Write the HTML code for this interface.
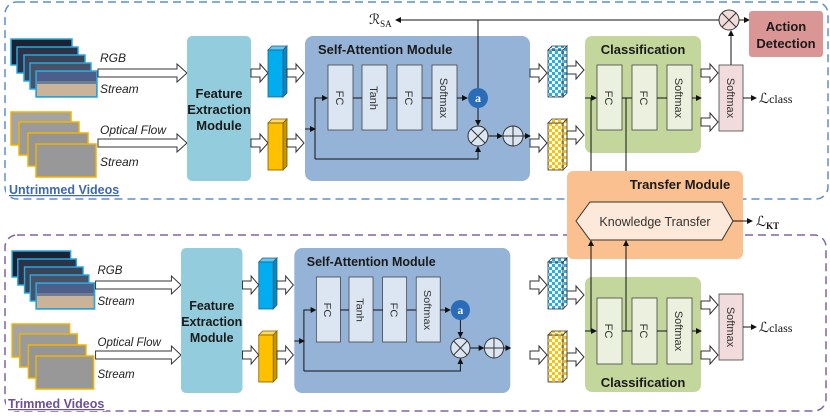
<!DOCTYPE html>
<html><head><meta charset="utf-8"><style>
html,body{margin:0;padding:0;background:#fff}
svg{display:block}
text{font-family:"Liberation Sans",sans-serif}
.b{font-weight:bold;font-size:13px;fill:#1a1a1a}
.i{font-style:italic;font-size:12px;fill:#222}
.r{font-size:11px;fill:#333}
.s{font-family:"Liberation Serif",serif;font-size:14px;fill:#111}
</style></head><body>
<svg width="830" height="419" viewBox="0 0 830 419" xmlns="http://www.w3.org/2000/svg">
<defs>
<pattern id="chb" width="6" height="6" patternUnits="userSpaceOnUse"><rect width="6" height="6" fill="#fff"/><rect width="3" height="3" fill="#1fb0f0"/><rect x="3" y="3" width="3" height="3" fill="#1fb0f0"/></pattern>
<pattern id="chy" width="6" height="6" patternUnits="userSpaceOnUse"><rect width="6" height="6" fill="#fff"/><rect width="3" height="3" fill="#ffc000"/><rect x="3" y="3" width="3" height="3" fill="#ffc000"/></pattern>
<marker id="ah" markerWidth="6" markerHeight="6" refX="5" refY="3" orient="auto" markerUnits="userSpaceOnUse"><path d="M0,0 L6,3 L0,6 Z" fill="#111"/></marker>
<path id="la" d="M0,-4 H79 V-9 L89,0 L79,9 V4 H0 Z" fill="#fff" stroke="#333" stroke-width="1"/>
<path id="sa" d="M0,-4 H9 V-9 L17,0 L9,9 V4 H0 Z" fill="#fff" stroke="#333" stroke-width="1"/>
<g id="cubeB"><path d="M268,50 L272,46 L287,46 L283,50 Z" fill="#5fc8f5" stroke="#245f86" stroke-width=".8"/><path d="M283,50 L287,46 L287,93 L283,97 Z" fill="#0a86c0" stroke="#245f86" stroke-width=".8"/><rect x="268" y="50" width="15" height="47" fill="#00aef0" stroke="#245f86" stroke-width=".8"/></g>
<g id="cubeY"><path d="M268,123 L272,119 L287,119 L283,123 Z" fill="#ffd866" stroke="#7a5d00" stroke-width=".8"/><path d="M283,123 L287,119 L287,166 L283,170 Z" fill="#c99500" stroke="#7a5d00" stroke-width=".8"/><rect x="268" y="123" width="15" height="47" fill="#ffc000" stroke="#7a5d00" stroke-width=".8"/></g>
<g id="left">
 <rect x="11" y="39" width="61" height="26" fill="#1b2233" stroke="#26a8e0" stroke-width="1.5"/>
 <rect x="17" y="47" width="61" height="26" fill="#2a3347" stroke="#26a8e0" stroke-width="1.5"/>
 <rect x="24" y="55" width="61" height="26" fill="#3a4357" stroke="#26a8e0" stroke-width="1.5"/>
 <rect x="30" y="63" width="61" height="26" fill="#4a5268" stroke="#26a8e0" stroke-width="1.5"/>
 <rect x="36" y="71" width="61" height="26" fill="#6f7c95" stroke="#26a8e0" stroke-width="1.5"/>
 <rect x="37" y="72" width="59" height="9" fill="#4b5f8a"/>
 <rect x="37" y="84" width="59" height="12" fill="#c9b49a"/>
 <rect x="11" y="112" width="60" height="33" fill="#a4a4a4" stroke="#f0b400" stroke-width="1.5"/>
 <rect x="19" y="122" width="60" height="33" fill="#9a9a9a" stroke="#f0b400" stroke-width="1.5"/>
 <rect x="28" y="133" width="60" height="33" fill="#959595" stroke="#f0b400" stroke-width="1.5"/>
 <rect x="36" y="144" width="60" height="33" fill="#989898" stroke="#f0b400" stroke-width="1.5"/>
 <text x="100" y="62" class="i">RGB</text>
 <text x="100" y="93" class="i">Stream</text>
 <text x="100" y="134" class="i">Optical Flow</text>
 <text x="100" y="166" class="i">Stream</text>
 <use href="#la" x="98" y="73"/>
 <use href="#la" x="98" y="143"/>
 <rect x="187" y="36" width="64" height="145" rx="5" fill="#93cddd"/>
 <text x="219" y="98" class="b" text-anchor="middle" font-size="13.5">Feature</text>
 <text x="219" y="114" class="b" text-anchor="middle" font-size="13.5">Extraction</text>
 <text x="219" y="130" class="b" text-anchor="middle" font-size="13.5">Module</text>
 <use href="#sa" x="251" y="73"/>
 <use href="#sa" x="251" y="143"/>
 <use href="#cubeB"/><use href="#cubeY"/>
 <use href="#sa" x="287" y="73"/>
 <use href="#sa" x="287" y="143"/>
 <rect x="305" y="36" width="225" height="145" rx="8" fill="#95b3d7"/>
 <text x="318" y="54" class="b">Self-Attention Module</text>
 <g fill="#dce6f2" stroke="#444" stroke-width=".8">
  <rect x="328" y="65" width="25" height="65"/><rect x="362" y="65" width="25" height="65"/>
  <rect x="397" y="65" width="25" height="65"/><rect x="432" y="65" width="25" height="65"/>
 </g>
 <g class="r" text-anchor="middle">
  <text transform="translate(336,98) rotate(90)">FC</text>
  <text transform="translate(370,98) rotate(90)">Tanh</text>
  <text transform="translate(405,98) rotate(90)">FC</text>
  <text transform="translate(440,98) rotate(90)">Softmax</text>
 </g>
 <g stroke="#111" stroke-width="1" fill="none">
  <line x1="305" y1="129" x2="315" y2="129" marker-end="url(#ah)"/>
  <polyline points="315,159 315,98 327,98" marker-end="url(#ah)"/>
  <polyline points="315,159 478,159 478,147" marker-end="url(#ah)"/>
  <line x1="353" y1="98" x2="362" y2="98"/><line x1="387" y1="98" x2="397" y2="98"/><line x1="422" y1="98" x2="432" y2="98"/>
  <line x1="457" y1="98" x2="467" y2="98" marker-end="url(#ah)"/>
  <line x1="478" y1="108" x2="478" y2="125" marker-end="url(#ah)"/>
  <line x1="488" y1="136" x2="502" y2="136" marker-end="url(#ah)"/>
  <line x1="523" y1="136" x2="530" y2="136" marker-end="url(#ah)"/>
 </g>
 <circle cx="478" cy="136" r="10" fill="#dce6f2" stroke="#333"/>
 <path d="M471,129 L485,143 M485,129 L471,143" stroke="#333"/>
 <circle cx="513" cy="136" r="10" fill="#dce6f2" stroke="#333"/>
 <path d="M503,136 H523 M513,126 V146" stroke="#333"/>
 <circle cx="478" cy="98" r="10" fill="#2a6cb8"/>
 <text x="478" y="102" text-anchor="middle" style="font-family:'Liberation Serif',serif;font-weight:bold;font-size:12px" fill="#fff">a</text>
</g>
</defs>

<rect x="5" y="2" width="823" height="197" rx="12" fill="none" stroke="#5b8fd0" stroke-width="1.5" stroke-dasharray="8,5"/>
<rect x="5" y="235" width="821" height="176" rx="12" fill="none" stroke="#8064a2" stroke-width="1.5" stroke-dasharray="8,5"/>

<use href="#left"/>
<g transform="translate(1.5,212) scale(0.96,1)"><use href="#left"/></g>

<g stroke="#111" fill="none">
 <line x1="478" y1="88" x2="478" y2="20"/>
 <line x1="719" y1="20" x2="396" y2="20" marker-end="url(#ah)"/>
 <line x1="739" y1="20" x2="749" y2="20" marker-end="url(#ah)"/>
 <line x1="731" y1="65" x2="731" y2="31" marker-end="url(#ah)"/>
</g>
<text x="369" y="24" class="s">ℛ<tspan font-size="9" dy="3">SA</tspan></text>
<circle cx="729" cy="20" r="10" fill="#f2dcdb" stroke="#333"/>
<path d="M722,13 L736,27 M736,13 L722,27" stroke="#333"/>
<rect x="749" y="11" width="74" height="46" rx="3" fill="#d99694"/>
<text x="786" y="31" class="b" text-anchor="middle" font-size="13.5">Action</text>
<text x="786" y="48" class="b" text-anchor="middle" font-size="13.5">Detection</text>

<use href="#sa" x="530" y="73"/><use href="#sa" x="530" y="143"/>
<g stroke="#333" stroke-width=".8">
 <rect x="548" y="50" width="15" height="47" fill="url(#chb)"/><path d="M548,50 L552,46 L567,46 L563,50 Z M563,50 L567,46 L567,93 L563,97 Z" fill="url(#chb)"/>
 <rect x="548" y="123" width="15" height="47" fill="url(#chy)"/><path d="M548,123 L552,119 L567,119 L563,123 Z M563,123 L567,119 L567,166 L563,170 Z" fill="url(#chy)"/>
</g>
<use href="#sa" x="567" y="70"/><use href="#sa" x="567" y="135"/>
<rect x="585" y="36" width="116" height="117" rx="7" fill="#c3d69b"/>
<text x="643" y="54" class="b" text-anchor="middle">Classification</text>
<g fill="#ebf1de" stroke="#444" stroke-width=".8">
 <rect x="597" y="65" width="25" height="65"/><rect x="632" y="65" width="25" height="65"/><rect x="667" y="65" width="25" height="65"/>
</g>
<g class="r" text-anchor="middle">
 <text transform="translate(605,98) rotate(90)">FC</text>
 <text transform="translate(640,98) rotate(90)">FC</text>
 <text transform="translate(675,98) rotate(90)">Softmax</text>
</g>
<g stroke="#111" fill="none">
 <line x1="585" y1="98" x2="596" y2="98" marker-end="url(#ah)"/>
 <line x1="622" y1="98" x2="632" y2="98"/><line x1="657" y1="98" x2="667" y2="98"/>
 <line x1="692" y1="98" x2="701" y2="98" marker-end="url(#ah)"/>
 <line x1="591" y1="98" x2="591" y2="201" marker-end="url(#ah)"/>
 <line x1="626" y1="98" x2="626" y2="201" marker-end="url(#ah)"/>
</g>
<use href="#sa" x="701" y="73"/><use href="#sa" x="701" y="122"/>
<rect x="719" y="65" width="24" height="66" fill="#f2dcdb" stroke="#444" stroke-width=".8"/>
<text transform="translate(727,98) rotate(90)" class="r" text-anchor="middle">Softmax</text>
<line x1="743" y1="98" x2="756" y2="98" stroke="#111" marker-end="url(#ah)"/>
<text x="759" y="103" class="s">ℒ<tspan font-size="12">class</tspan></text>

<rect x="567" y="171" width="176" height="88" rx="6" fill="#fac090"/>
<text x="680" y="189" class="b" text-anchor="middle" font-size="13.5">Transfer Module</text>
<path d="M576,221 L590,202 L722,202 L733,221 L722,240 L590,240 Z" fill="#fde9d9" stroke="#333" stroke-width="1"/>
<text x="655" y="226" text-anchor="middle" font-size="12.5" fill="#333">Knowledge Transfer</text>
<line x1="733" y1="221" x2="752" y2="221" stroke="#111" marker-end="url(#ah)"/>
<text x="756" y="226" class="s">ℒ<tspan font-size="9" dy="3" font-weight="bold">KT</tspan></text>

<use href="#sa" x="530" y="285"/><use href="#sa" x="530" y="355"/>
<g stroke="#333" stroke-width=".8">
 <rect x="548" y="262" width="15" height="47" fill="url(#chb)"/><path d="M548,262 L552,258 L567,258 L563,262 Z M563,262 L567,258 L567,305 L563,309 Z" fill="url(#chb)"/>
 <rect x="548" y="335" width="15" height="47" fill="url(#chy)"/><path d="M548,335 L552,331 L567,331 L563,335 Z M563,335 L567,331 L567,378 L563,382 Z" fill="url(#chy)"/>
</g>
<use href="#sa" x="567" y="295"/><use href="#sa" x="567" y="357"/>
<rect x="585" y="277" width="116" height="115" rx="7" fill="#c3d69b"/>
<text x="643" y="387" class="b" text-anchor="middle">Classification</text>
<g fill="#ebf1de" stroke="#444" stroke-width=".8">
 <rect x="597" y="298" width="25" height="66"/><rect x="632" y="298" width="25" height="66"/><rect x="667" y="298" width="25" height="66"/>
</g>
<g class="r" text-anchor="middle">
 <text transform="translate(605,331) rotate(90)">FC</text>
 <text transform="translate(640,331) rotate(90)">FC</text>
 <text transform="translate(675,331) rotate(90)">Softmax</text>
</g>
<g stroke="#111" fill="none">
 <line x1="585" y1="331" x2="596" y2="331" marker-end="url(#ah)"/>
 <line x1="622" y1="331" x2="632" y2="331"/><line x1="657" y1="331" x2="667" y2="331"/>
 <line x1="692" y1="331" x2="701" y2="331" marker-end="url(#ah)"/>
 <line x1="591" y1="331" x2="591" y2="241" marker-end="url(#ah)"/>
 <line x1="626" y1="331" x2="626" y2="241" marker-end="url(#ah)"/>
</g>
<use href="#sa" x="701" y="305"/><use href="#sa" x="701" y="355"/>
<rect x="719" y="294" width="24" height="66" fill="#f2dcdb" stroke="#444" stroke-width=".8"/>
<text transform="translate(727,327) rotate(90)" class="r" text-anchor="middle">Softmax</text>
<line x1="743" y1="327" x2="756" y2="327" stroke="#111" marker-end="url(#ah)"/>
<text x="759" y="332" class="s">ℒ<tspan font-size="12">class</tspan></text>

<rect x="6" y="180" width="118" height="16" fill="#fff"/>
<text x="9" y="194" font-weight="bold" font-size="12.5" fill="#3d68ad" text-decoration="underline">Untrimmed Videos</text>
<rect x="6" y="395" width="100" height="16" fill="#fff"/>
<text x="8" y="408" font-weight="bold" font-size="12.5" fill="#6b5196" text-decoration="underline">Trimmed Videos</text>
</svg>
</body></html>
